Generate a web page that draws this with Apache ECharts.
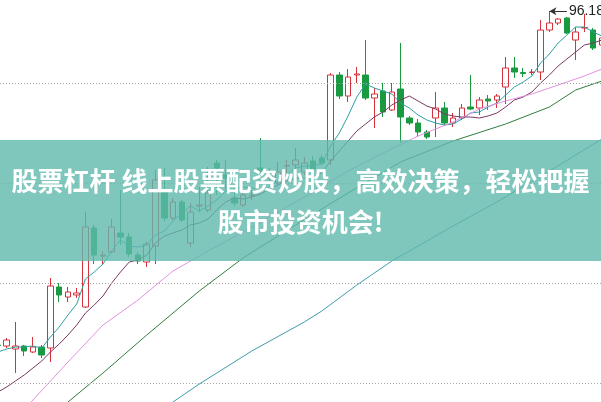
<!DOCTYPE html>
<html><head><meta charset="utf-8">
<script src="https://cdn.jsdelivr.net/npm/echarts@6/dist/echarts.min.js"></script>
<style>html,body{margin:0;padding:0;background:#fff;overflow:hidden}#c{width:601px;height:402px}</style>
</head><body><div id="c"></div>
<script>
// daily candles: [open, close, low, high]
const candles = [
[62.8,62.75,62.7,62.9],[62.7,63.3,62.5,63.5],[62.4,62.7,60.0,65.1],[62.7,62.2,61.7,62.8],[62.1,62.6,62.0,63.6],
[62.6,61.8,61.5,62.8],[62.5,68.7,61.1,69.5],[68.6,67.8,67.1,69.0],[67.6,68.1,67.1,68.6],[67.8,68.0,67.5,68.5],
[66.6,74.6,66.5,76.1],[74.5,71.8,70.9,74.8],[71.7,71.8,70.8,72.2],[72.1,74.6,72.0,75.4],[74.0,73.6,72.8,78.3],
[73.6,71.9,71.6,74.0],[71.8,71.2,70.9,72.1],[71.1,72.9,70.6,73.1],[72.7,79.3,70.9,80.3],[78.3,75.5,75.2,80.5],
[75.5,77.1,75.3,77.5],[77.1,75.3,75.1,77.3],[73.0,76.1,72.6,77.0],[76.7,76.8,76.1,78.6],[76.3,78.0,76.1,80.6],
[81.0,80.5,77.8,81.3],[79.8,79.5,78.3,81.3],[77.5,77.0,76.7,78.0],[76.8,77.8,76.6,78.3],[77.75,77.8,77.3,78.3],
[80.5,80.1,79.3,83.5],[79.5,80.1,79.2,80.5],[79.0,80.1,78.8,81.1],[80.7,80.75,79.8,81.3],[80.8,81.3,80.3,82.5],
[80.1,81.0,79.8,81.6],[81.2,80.4,80.1,81.7],[81.5,81.0,80.8,81.8],[81.3,89.8,80.8,90.0],[89.8,87.7,87.4,90.1],
[87.7,89.6,87.1,90.4],[89.8,89.9,89.0,90.6],[89.8,87.5,87.3,93.3],[87.5,87.9,84.5,88.5],[88.2,86.1,85.6,89.0],
[86.3,88.1,86.2,89.0],[88.4,85.6,83.0,93.0],[85.5,85.0,84.8,85.7],[85.0,84.1,83.6,85.4],[84.1,83.6,83.4,84.3],
[85.5,86.5,83.6,88.1],[86.5,85.0,84.8,87.1],[85.0,85.5,84.6,86.0],[85.5,86.5,85.3,86.9],[86.6,86.4,86.3,89.8],
[86.5,87.3,85.8,87.6],[87.4,87.2,86.3,87.8],[87.3,87.7,86.5,87.9],[88.6,90.5,86.9,91.6],[90.5,90.1,89.5,91.6],
[90.05,89.95,89.6,90.5],[90.05,90.1,89.8,90.4],[90.1,94.3,89.3,95.3],[94.3,95.0,94.1,96.18],[95.0,95.4,94.8,95.5],
[95.5,94.0,93.9,95.6],[93.3,94.1,91.3,94.6],[94.5,94.55,94.1,95.9],[94.3,92.5,92.3,94.5],[92.8,93.5,92.6,93.7]
];

const ma5 = [62.1,62.4,62.6,62.6,62.7,62.5,63.6,64.6,65.8,66.9,69.4,70.1,70.9,72.2,73.3,72.7,72.6,72.8,73.8,74.2,
75.2,76.0,76.7,76.2,76.7,77.3,78.2,78.4,78.6,78.5,78.4,78.6,79.2,79.8,80.5,80.7,80.7,80.9,82.7,84.0,
85.7,87.6,88.9,88.5,88.2,87.9,87.0,86.5,85.8,85.3,85.0,84.8,84.9,85.4,86.0,86.1,86.6,87.0,87.8,88.6,
89.1,89.7,91.0,91.9,93.0,93.8,94.6,94.6,94.1,93.7];
const ma10 = [58.1,58.6,59.2,59.8,60.5,61.2,62.1,62.9,63.8,64.8,66.0,66.8,67.7,69.0,70.1,71.1,71.3,71.8,73.0,73.7,
74.0,74.3,74.8,75.0,75.4,76.3,77.1,77.5,77.4,77.6,77.9,78.4,78.8,79.2,79.5,79.5,79.6,80.0,81.2,82.2,
83.2,84.2,84.9,85.6,86.1,86.8,87.3,87.7,87.2,86.7,86.4,85.9,85.7,85.6,85.6,85.5,85.7,86.0,86.6,87.3,
87.6,88.1,89.0,89.8,90.7,91.4,92.1,92.8,93.0,93.3];
// slower averages read at selected days: [dayIndex, value]
const ma20 = [[0,53.5],[4,57.3],[8,61.1],[12,64.8],[16,67.3],[20,70.2],[24,72.2],[28,74.1],[32,76.1],[36,78.1],
[40,80.2],[44,82.0],[48,83.7],[52,85.1],[55,86.4],[58,87.2],[61,87.9],[64,88.8],[67,89.7],[69,90.4]];
const ma30 = [[0,51.3],[4,54.2],[8,57.1],[12,60.0],[17,63.8],[23,68.2],[28,71.5],[34,74.8],[40,78.0],[46,81.1],
[52,83.2],[58,84.9],[63,86.6],[66,88.3],[69,89.2]];
const ma60 = [[12,52.3],[16,54.7],[20,57.1],[23,58.9],[29,62.2],[35,65.1],[37,66.2],[41,68.8],[45,71.2],[48,72.7],
[52,74.7],[57,77.1],[63,80.2],[69,83.4]];
const gridLevels = [59, 69, 79, 89];

const bannerLine1 = '股票杠杆 线上股票配资炒股，高效决策，轻松把握';
const bannerLine2 = '股市投资机会!';

let hiIdx = 0;
candles.forEach((d, i) => { if (d[3] > candles[hiIdx][3]) hiIdx = i; });
const hiVal = candles[hiIdx][3];

const candleData = candles.map((d, i) => [i, d[0], d[1], d[2], d[3]]);
const withIdx = arr => arr.map((v, i) => [i, v]);

const chart = echarts.init(document.getElementById('c'), null, {renderer: 'canvas'});
const lineS = (name, data, color) => ({
  name, type: 'line', data, symbol: 'none', smooth: false, connectNulls: true,
  lineStyle: {color, width: 1}, z: 3, animation: false, silent: true
});
chart.setOption({
  animation: false,
  grid: {left: 0, right: 0, top: 0, bottom: 0, containLabel: false},
  xAxis: {type: 'value', min: 0.2342, max: 68.897,
    axisLine: {show: false}, axisTick: {show: false}, axisLabel: {show: false}, splitLine: {show: false}},
  yAxis: {type: 'value', min: 57.1, max: 97.3,
    axisLine: {show: false}, axisTick: {show: false}, axisLabel: {show: false}, splitLine: {show: false}},
  series: [
    {type: 'line', data: [], z: 1, silent: true,
      markLine: {silent: true, symbol: 'none', animation: false, label: {show: false},
        lineStyle: {color: '#a8a8a8', width: 1, type: [1, 2]},
        data: gridLevels.map(v => ({yAxis: v}))}},
    {type: 'candlestick', data: candleData, barWidth: 6, z: 2,
      dimensions: ['day', 'open', 'close', 'lowest', 'highest'],
      encode: {x: 0, y: [1, 2, 3, 4]},
      itemStyle: {color: '#ffffff', color0: '#1a9a40', borderColor: '#d6323c', borderColor0: '#1a9a40', borderWidth: 1},
      markLine: {silent: true, symbol: ['arrow', 'none'], symbolSize: [6, 7], animation: false,
        lineStyle: {color: '#333', width: 1, type: 'solid'},
        label: {show: true, position: 'end', distance: 2, color: '#222', fontSize: 14,
          fontFamily: 'Liberation Sans, Arial, sans-serif', formatter: String(hiVal)},
        data: [[{coord: [hiIdx, hiVal]}, {coord: [hiIdx + 2, hiVal]}]]}
    },
    lineS('MA5', withIdx(ma5), '#2e9ea0'),
    lineS('MA10', withIdx(ma10), '#7a3862'),
    lineS('MA20', ma20, '#e291e0'),
    lineS('MA30', ma30, '#2f7d3c'),
    lineS('MA60', ma60, '#3f9cab')
  ],
  graphic: [
    {type: 'rect', z: 100, silent: true, shape: {x: 0, y: 140, width: 601, height: 121},
      style: {fill: 'rgba(95,185,172,0.8)'}},
    {type: 'text', z: 101, silent: true,
      style: {text: bannerLine1, x: 300.5, y: 181.5, fill: '#ffffff',
        font: 'bold 26px "Noto Sans CJK SC"', align: 'center', verticalAlign: 'middle',
        textAlign: 'center', textVerticalAlign: 'middle'}},
    {type: 'text', z: 101, silent: true,
      style: {text: bannerLine2, x: 300.5, y: 222, fill: '#ffffff',
        font: 'bold 26px "Noto Sans CJK SC"', align: 'center', verticalAlign: 'middle',
        textAlign: 'center', textVerticalAlign: 'middle'}}
  ]
});
</script>
</body></html>
